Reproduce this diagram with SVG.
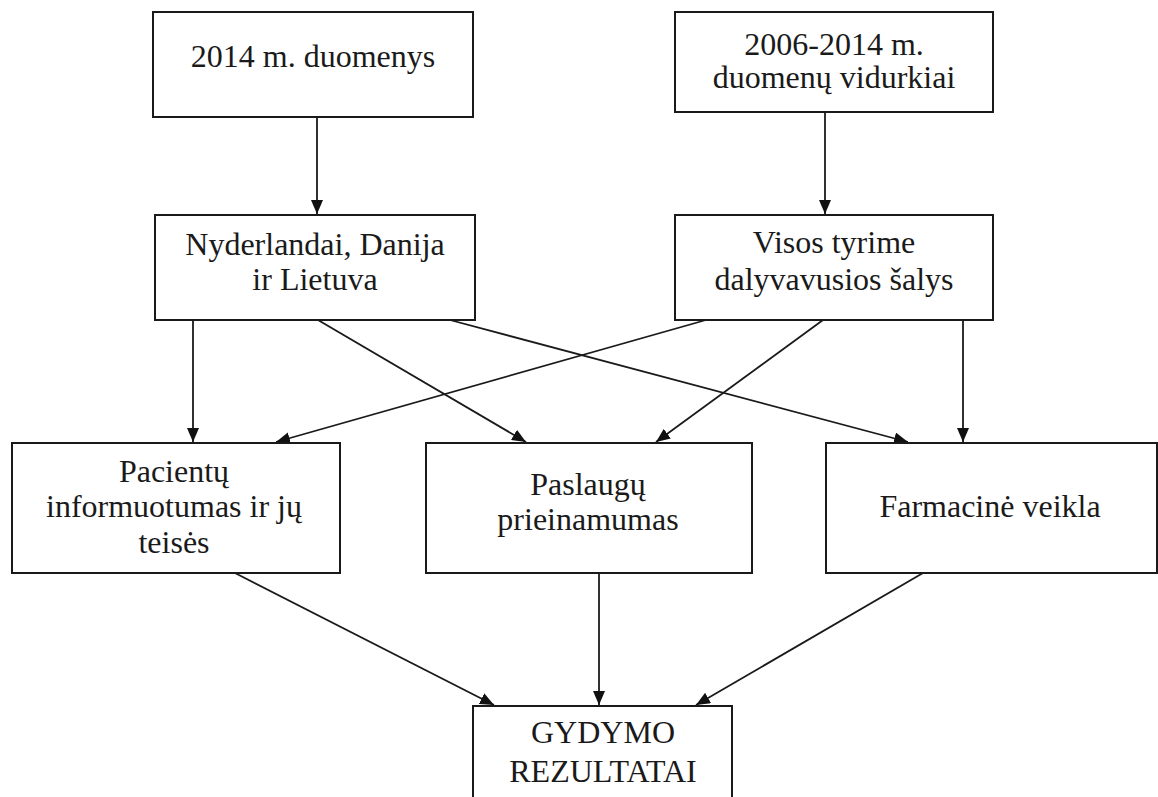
<svg xmlns="http://www.w3.org/2000/svg" width="1158" height="797" viewBox="0 0 1158 797">
<style>
.box{fill:#fff;stroke:#1a1a1a;stroke-width:2}
.t{font-family:"Liberation Serif","Times New Roman",serif;font-size:32px;fill:#1a1a1a;text-anchor:middle}
.c{stroke:#1a1a1a;stroke-width:1.8;fill:none;marker-end:url(#ah)}
</style>
<defs>
<marker id="ah" markerWidth="14" markerHeight="12" refX="14" refY="6" orient="auto" markerUnits="userSpaceOnUse">
<path d="M0,0 L14,6 L0,12 Z" fill="#111"/>
</marker>
</defs>
<rect width="1158" height="797" fill="#fff"/>
<g id="connectors">
<line class="c" x1="317" y1="117" x2="317" y2="214"/>
<line class="c" x1="825" y1="112" x2="825" y2="214"/>
<line class="c" x1="193" y1="320" x2="193" y2="442"/>
<line class="c" x1="318" y1="320" x2="526" y2="442"/>
<line class="c" x1="450" y1="320" x2="908" y2="442"/>
<line class="c" x1="706" y1="320" x2="276" y2="442"/>
<line class="c" x1="823" y1="320" x2="656" y2="442"/>
<line class="c" x1="963" y1="320" x2="963" y2="442"/>
<line class="c" x1="235" y1="573" x2="494" y2="705"/>
<line class="c" x1="599" y1="573" x2="599" y2="705"/>
<line class="c" x1="923" y1="573" x2="696" y2="705"/>
</g>
<g id="n1"><rect class="box" x="153" y="12" width="320" height="105"/><text class="t" x="313" y="67">2014 m. duomenys</text></g>
<g id="n2"><rect class="box" x="675" y="12" width="318" height="100"/><text class="t" x="834" y="55">2006-2014 m.</text><text class="t" x="834" y="88">duomenų vidurkiai</text></g>
<g id="n3"><rect class="box" x="155" y="215" width="320" height="105"/><text class="t" x="315" y="255">Nyderlandai, Danija</text><text class="t" x="315" y="290">ir Lietuva</text></g>
<g id="n4"><rect class="box" x="675" y="215" width="318" height="105"/><text class="t" x="834" y="253">Visos tyrime</text><text class="t" x="834" y="290">dalyvavusios šalys</text></g>
<g id="n5"><rect class="box" x="12" y="443" width="328" height="130"/><text class="t" x="174" y="482">Pacientų</text><text class="t" x="174" y="517">informuotumas ir jų</text><text class="t" x="174" y="553">teisės</text></g>
<g id="n6"><rect class="box" x="426" y="443" width="326" height="130"/><text class="t" x="588" y="495">Paslaugų</text><text class="t" x="588" y="530">prieinamumas</text></g>
<g id="n7"><rect class="box" x="826" y="443" width="331" height="130"/><text class="t" x="990" y="517">Farmacinė veikla</text></g>
<g id="n8"><rect class="box" x="473" y="706" width="259" height="110"/><text class="t" x="603" y="743">GYDYMO</text><text class="t" x="603" y="782">REZULTATAI</text></g>
</svg>
